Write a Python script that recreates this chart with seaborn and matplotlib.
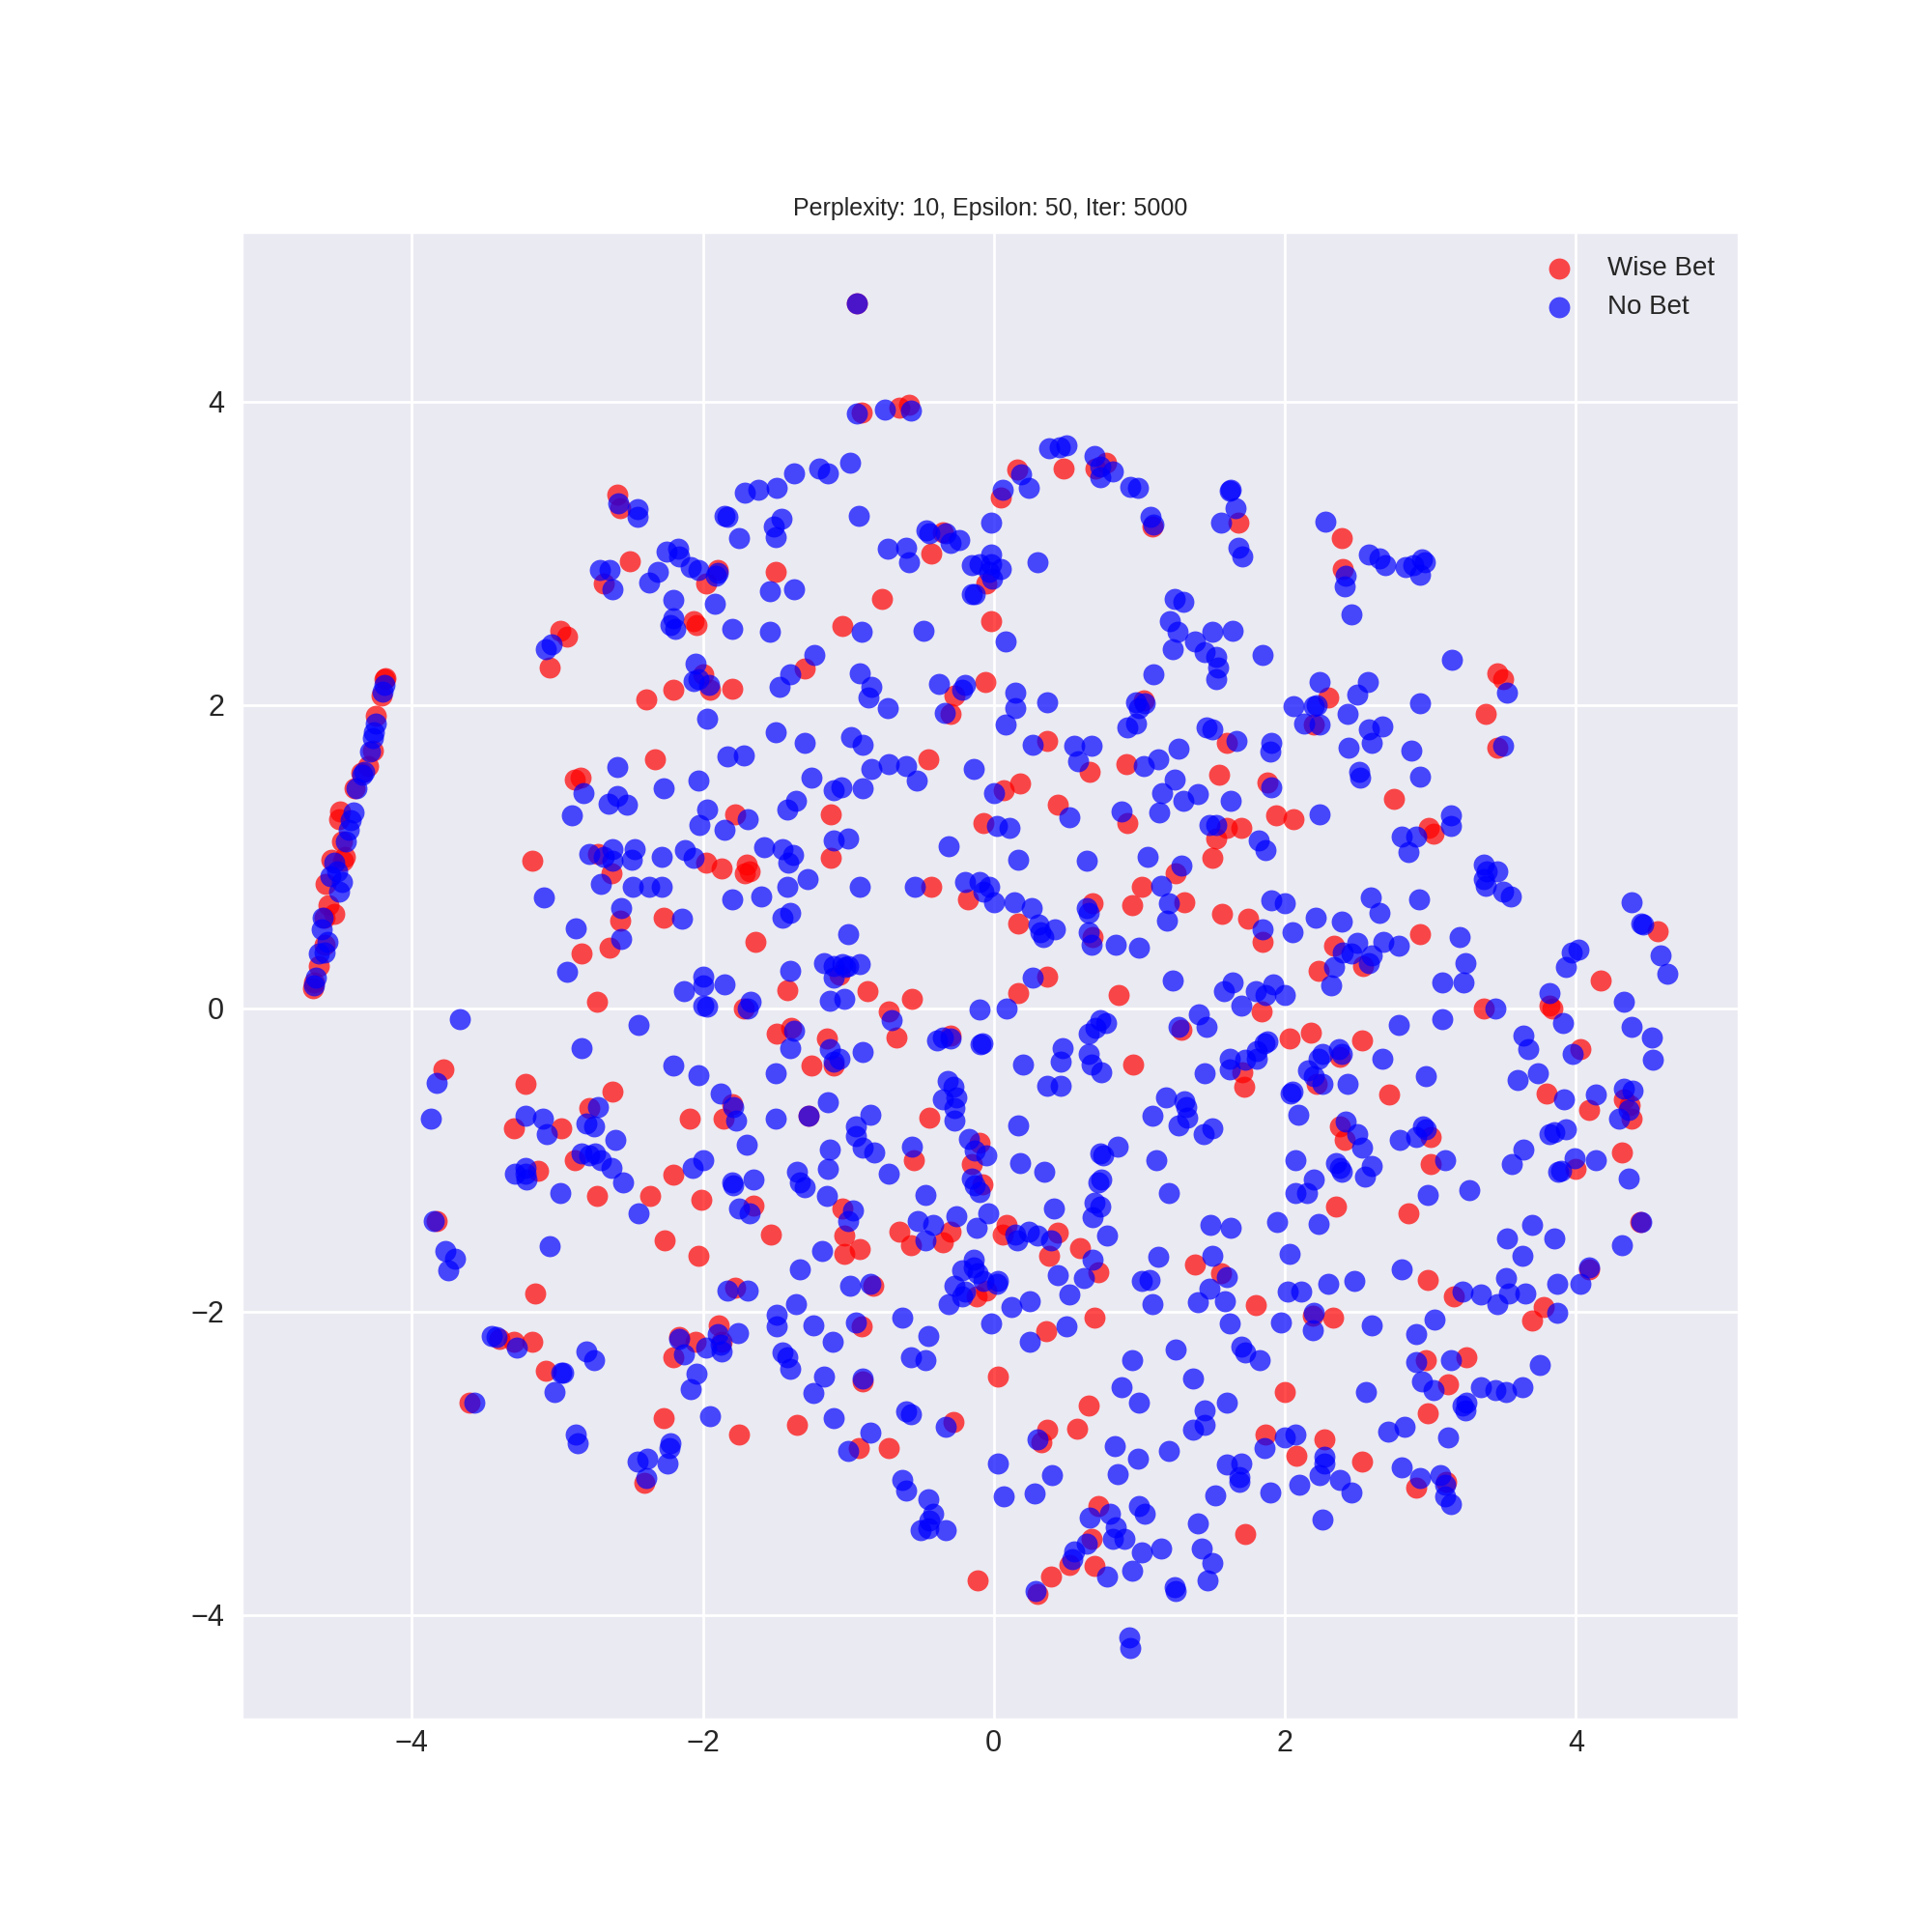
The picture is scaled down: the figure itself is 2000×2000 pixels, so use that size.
import matplotlib
matplotlib.use("Agg")
import matplotlib.pyplot as plt
import seaborn as sns
import pandas as pd

wise_strip = [(-4.68,0.13),(-4.67,0.17),(-4.64,0.28),(-4.6,0.42),(-4.6,0.6),(-4.57,0.68),(-4.53,0.62),(-4.59,0.82),(-4.55,0.98),(-4.47,0.97),(-4.46,1.0),(-4.48,1.1),(-4.5,1.25),(-4.49,1.3),(-4.39,1.45),(-4.35,1.55),(-4.3,1.6),(-4.27,1.7),(-4.25,1.93),(-4.21,2.06),(-4.18,2.18),(-4.19,2.17)]
wise_top = [(-0.91,3.93),(-0.65,3.96),(-0.58,3.98),(-0.94,4.65),(0.16,3.55),(0.48,3.56),(0.7,3.56),(0.77,3.6),(0.05,3.37),(-2.59,3.39),(-2.57,3.3),(-2.5,2.95),(-1.5,2.88),(-1.98,2.8),(-1.9,2.89),(-2.68,2.8),(-0.77,2.7),(-0.43,3.0),(-0.35,3.14),(-0.05,2.8),(-0.02,2.55),(-1.04,2.52),(-2.06,2.55),(-2.04,2.53),(-2.98,2.49),(-2.93,2.45),(-3.05,2.25),(-2.39,2.04),(-2.2,2.1),(-2.0,2.2),(-1.95,2.1),(-1.8,2.11),(-1.3,2.24),(1.09,3.18),(1.68,3.2),(2.39,3.1),(2.4,2.9),(3.46,2.21),(3.5,2.17),(3.38,1.94),(3.46,1.72),(2.3,2.05),(2.2,1.87),(-0.3,1.94),(-0.27,2.06),(-0.06,2.15),(1.03,2.03)]
wise_mid_up = [(-0.45,1.64),(0.07,1.44),(0.18,1.48),(0.37,1.76),(0.66,1.56),(0.44,1.34),(-0.07,1.22),(0.92,1.22),(0.91,1.61),(1.55,1.54),(1.6,1.75),(1.6,1.19),(1.53,1.12),(1.5,0.99),(1.7,1.19),(1.88,1.49),(1.94,1.27),(2.06,1.25),(2.75,1.38),(2.99,1.19),(3.02,1.15),(-2.88,1.51),(-2.84,1.52),(-2.33,1.64),(-1.78,1.28),(-1.12,1.28),(-1.12,0.99),(-3.17,0.97),(-2.72,1.02),(-2.63,0.89),(-1.98,0.96),(-1.87,0.92),(-1.7,0.95),(-1.71,0.89),(-1.68,0.9),(-2.57,0.58),(-2.27,0.6),(-2.64,0.4),(-2.83,0.36),(-1.64,0.44),(-0.43,0.8),(-0.18,0.72),(0.17,0.56),(0.68,0.69),(0.68,0.47),(0.95,0.68),(1.02,0.8),(1.25,0.89),(1.31,0.7),(1.57,0.62),(1.75,0.59),(1.85,0.44),(2.34,0.41),(2.23,0.25),(2.54,0.28),(2.93,0.49),(4.56,0.51),(4.17,0.18),(-2.73,0.04),(-1.42,0.12),(-1.06,0.22),(-0.87,0.11),(-0.56,0.06),(0.17,0.1),(0.37,0.21),(0.86,0.09),(1.84,-0.02),(3.37,0.0),(3.82,0.02),(3.84,0.0)]
wise_mid_low = [(-1.72,0.0),(-0.72,-0.02),(-0.67,-0.19),(-1.49,-0.17),(-1.39,-0.13),(-1.25,-0.38),(-1.15,-0.2),(-1.1,-0.38),(-0.3,-0.18),(0.96,-0.37),(1.29,-0.14),(1.71,-0.42),(1.72,-0.52),(2.03,-0.2),(2.18,-0.16),(2.22,-0.5),(2.38,-0.32),(2.72,-0.57),(2.53,-0.21),(3.8,-0.56),(4.03,-0.27),(4.09,-0.67),(4.33,-0.6),(4.37,-0.64),(4.38,-0.73),(4.32,-0.95),(4.0,-1.06),(-3.78,-0.4),(-3.22,-0.5),(-2.62,-0.55),(-2.78,-0.66),(-3.3,-0.79),(-2.97,-0.79),(-2.2,-1.1),(-2.09,-0.73),(-1.86,-0.73),(-1.8,-0.63),(-1.27,-0.71),(-0.44,-0.72),(-0.1,-0.89),(-0.15,-1.03),(-0.55,-1.0),(-0.08,-1.16),(-3.13,-1.07),(-2.88,-1.0),(-2.73,-1.24),(-2.36,-1.24),(-2.01,-1.26),(-1.65,-1.3),(-1.04,-1.32),(2.38,-0.78),(2.41,-0.87),(3.0,-0.85),(3.0,-1.03),(2.85,-1.35),(2.35,-1.31),(0.06,-1.49),(0.09,-1.43),(0.44,-1.48),(0.59,-1.58),(0.38,-1.63),(-0.65,-1.47),(-0.57,-1.56),(-0.3,-1.47),(-0.35,-1.54),(-1.03,-1.5),(-1.03,-1.62),(-0.92,-1.59),(-1.53,-1.49),(-2.03,-1.63),(-2.26,-1.53)]
wise_low = [(-3.83,-1.4),(-3.15,-1.88),(-1.78,-1.84),(-0.83,-1.83),(-0.12,-1.9),(-0.05,-1.86),(0.72,-1.74),(0.69,-2.04),(0.36,-2.13),(1.38,-1.69),(1.56,-1.75),(1.8,-1.96),(2.19,-2.03),(2.33,-2.04),(3.16,-1.9),(2.98,-1.79),(3.7,-2.06),(3.78,-1.97),(4.09,-1.72),(4.44,-1.41),(-3.4,-2.18),(-3.3,-2.2),(-3.17,-2.2),(-3.08,-2.39),(-2.16,-2.17),(-2.2,-2.3),(-2.05,-2.2),(-1.89,-2.09),(-1.87,-2.2),(-0.91,-2.1),(0.03,-2.43),(2.97,-2.32),(3.25,-2.3),(3.12,-2.48),(2.98,-2.67),(2.0,-2.53),(-0.9,-2.46),(-3.6,-2.6),(-2.27,-2.7),(-1.75,-2.81),(-1.35,-2.75),(-0.28,-2.73),(-0.93,-2.9),(-0.72,-2.9),(0.33,-2.86),(0.37,-2.78),(0.57,-2.77),(0.65,-2.62),(1.87,-2.81),(2.08,-2.95),(2.27,-2.84),(2.53,-2.99),(2.9,-3.16),(3.11,-3.12),(-2.4,-3.13),(0.72,-3.28),(0.67,-3.5),(0.69,-3.68),(1.73,-3.47),(0.52,-3.67),(0.39,-3.75),(-0.11,-3.77),(0.3,-3.86)]

nobet_strip = [(-4.67,0.15),(-4.66,0.2),(-4.64,0.36),(-4.62,0.52),(-4.61,0.6),(-4.58,0.44),(-4.6,0.37),(-4.56,0.87),(-4.53,0.96),(-4.51,0.9),(-4.48,0.83),(-4.5,0.77),(-4.45,1.1),(-4.43,1.18),(-4.42,1.24),(-4.4,1.29),(-4.38,1.45),(-4.34,1.54),(-4.33,1.56),(-4.29,1.69),(-4.27,1.78),(-4.26,1.82),(-4.25,1.88),(-4.2,2.09),(-4.19,2.13)]
nobet_top = [(-0.94,4.65),(-0.94,3.92),(-0.75,3.95),(-0.57,3.94),(0.38,3.69),(0.45,3.7),(0.5,3.71),(0.69,3.64),(0.73,3.57),(0.73,3.5),(0.82,3.54),(0.94,3.44),(0.99,3.43),(-0.99,3.6),(-1.2,3.56),(-1.14,3.53),(-1.37,3.53),(-1.49,3.43),(-1.62,3.42),(-1.71,3.4),(-0.93,3.25),(-1.85,3.25),(-1.83,3.24),(-1.46,3.23),(-1.51,3.18),(-1.5,3.11),(-1.75,3.1),(-0.46,3.15),(-0.44,3.13),(-0.33,3.13),(-0.24,3.09),(-0.3,3.07),(-0.73,3.03),(-0.6,3.04),(-0.58,2.94),(-0.15,2.92),(-0.1,2.93),(-0.02,3.2),(0.06,3.42),(0.19,3.52),(0.24,3.43),(-0.02,2.99),(-0.02,2.93),(-0.03,2.88),(0.05,2.9),(-0.01,2.83),(0.3,2.94),(-0.15,2.73),(-0.13,2.73),(1.08,3.24),(1.1,3.19),(1.63,3.42),(1.62,3.41),(1.56,3.2),(1.66,3.3),(1.68,3.04),(1.71,2.98),(2.28,3.21),(2.58,2.99),(2.65,2.97),(2.69,2.92),(2.83,2.91),(2.88,2.92),(2.94,2.96),(2.96,2.94),(2.93,2.86),(2.42,2.85),(2.41,2.78),(2.46,2.6),(-2.58,3.33),(-2.45,3.29),(-2.45,3.24),(-2.25,3.01),(-2.71,2.89),(-2.64,2.89),(-2.62,2.76),(-2.37,2.81),(-2.31,2.88),(-2.17,3.03),(-2.16,2.98),(-2.08,2.91),(-2.03,2.89),(-1.9,2.87),(-1.91,2.85),(-1.92,2.67),(-1.54,2.75),(-1.37,2.76),(-2.2,2.69),(-2.2,2.57),(-2.22,2.53),(-2.19,2.5),(-1.8,2.5),(-1.54,2.48),(-1.23,2.33),(-0.91,2.48),(-0.48,2.49),(0.08,2.42),(1.24,2.7),(1.3,2.68),(1.21,2.55),(1.26,2.48),(1.38,2.42),(1.23,2.37),(1.45,2.35),(1.5,2.48),(1.64,2.49),(1.53,2.32),(1.54,2.25),(1.53,2.17),(1.85,2.33),(1.1,2.2),(-3.08,2.37),(-3.04,2.4),(-2.05,2.27),(-2.03,2.17),(-1.96,2.13),(-2.06,2.16),(-1.97,1.91),(-1.47,2.12),(-1.4,2.2),(-0.92,2.21),(-0.84,2.12),(-0.86,2.05),(-0.73,1.98),(-0.38,2.14),(-0.34,1.95),(-0.2,2.13),(-0.22,2.1),(0.15,2.08),(0.15,1.98),(0.08,1.87),(0.37,2.02),(0.98,2.02),(1.0,1.98),(1.04,2.01),(0.92,1.85),(0.98,1.88),(1.46,1.85),(1.5,1.84),(1.67,1.76),(1.91,1.75),(1.9,1.69),(2.06,1.99),(2.2,1.99),(2.22,2.0),(2.24,2.15),(2.57,2.15),(2.5,2.07),(2.43,1.94),(2.24,1.87),(2.13,1.88),(2.58,1.84),(2.6,1.75),(2.44,1.72),(2.67,1.86),(2.93,2.01),(3.15,2.3),(3.53,2.08),(3.5,1.73),(2.51,1.56),(2.52,1.52),(2.87,1.7),(2.93,1.53)]
nobet_mid_up = [(-1.5,1.82),(-1.3,1.75),(-1.72,1.67),(-1.83,1.66),(-0.98,1.79),(-0.9,1.74),(-0.84,1.58),(-0.72,1.61),(-0.6,1.6),(-0.9,1.45),(-0.53,1.5),(-0.14,1.58),(0.27,1.74),(0.55,1.73),(0.58,1.63),(0.67,1.73),(1.03,1.6),(1.13,1.64),(1.24,1.51),(1.27,1.71),(1.16,1.42),(1.3,1.37),(1.4,1.41),(1.14,1.29),(0.88,1.3),(0.52,1.26),(0.0,1.42),(0.02,1.2),(0.11,1.19),(0.17,0.98),(0.64,0.97),(1.06,1.0),(1.29,0.94),(1.15,0.81),(-0.31,1.07),(1.63,1.37),(1.48,1.21),(1.53,1.21),(1.82,1.11),(1.87,1.04),(1.91,1.46),(2.24,1.28),(3.14,1.27),(3.14,1.2),(2.8,1.13),(2.9,1.13),(2.85,1.03),(-2.59,1.59),(-2.82,1.42),(-2.9,1.27),(-2.59,1.4),(-2.65,1.35),(-2.52,1.34),(-2.27,1.45),(-2.03,1.5),(-1.97,1.31),(-1.69,1.25),(-1.85,1.18),(-2.02,1.21),(-1.25,1.52),(-1.36,1.37),(-1.1,1.44),(-1.05,1.46),(-1.42,1.31),(-1.58,1.06),(-1.45,1.05),(-1.38,1.01),(-1.41,0.96),(-1.42,0.8),(-1.28,0.85),(-1.1,1.11),(-1.0,1.12),(-0.92,0.8),(-0.54,0.8),(-2.78,1.02),(-2.68,1.0),(-2.62,1.05),(-2.62,0.97),(-2.47,1.05),(-2.49,0.98),(-2.7,0.82),(-2.48,0.8),(-2.37,0.8),(-2.28,0.8),(-2.28,1.0),(-2.12,1.04),(-2.06,0.99),(-3.09,0.73),(-2.87,0.53),(-2.56,0.66),(-2.56,0.46),(-2.14,0.59),(-1.8,0.72),(-1.6,0.74),(-1.45,0.6),(-1.4,0.63),(-0.1,0.83),(-0.2,0.83),(-0.07,0.77),(-0.03,0.8),(0.0,0.7),(0.14,0.7),(0.26,0.66),(0.31,0.55),(0.34,0.47),(0.32,0.5),(0.42,0.52),(0.65,0.63),(0.64,0.66),(0.65,0.5),(0.67,0.42),(0.84,0.42),(1.0,0.4),(1.19,0.58),(1.2,0.69),(1.85,0.52),(1.91,0.71),(2.0,0.69),(2.05,0.5),(2.21,0.6),(2.39,0.57),(2.65,0.63),(2.59,0.73),(2.92,0.72),(3.2,0.47),(3.37,0.95),(3.39,0.9),(3.37,0.85),(3.38,0.81),(3.46,0.9),(3.5,0.77),(3.55,0.74),(4.38,0.7),(4.45,0.56),(4.46,0.55),(4.58,0.35),(4.63,0.23),(4.02,0.39),(3.97,0.37),(3.93,0.27),(3.24,0.3),(3.08,0.17),(3.23,0.17),(2.4,0.37),(2.46,0.36),(2.5,0.43),(2.58,0.3),(2.6,0.35),(2.68,0.44),(2.78,0.41),(2.34,0.27),(2.32,0.15),(-2.93,0.24),(-1.17,0.3),(-1.1,0.28),(-1.0,0.49),(-1.04,0.29),(-1.0,0.28),(-0.92,0.29),(-1.4,0.25),(-1.85,0.16),(-2.0,0.21),(-2.0,0.15),(-2.13,0.11),(-1.1,0.2),(-1.02,0.27),(0.27,0.2),(1.23,0.18),(1.58,0.11),(1.64,0.17),(1.7,0.02),(1.8,0.11),(1.87,0.09),(1.92,0.16),(2.0,0.09),(3.82,0.1)]
nobet_mid = [(-3.67,-0.07),(-2.44,-0.11),(-2.0,0.02),(-1.97,0.01),(-1.69,0.0),(-1.67,0.04),(-1.13,0.05),(-1.03,0.06),(-0.7,-0.08),(-0.1,-0.01),(0.09,0.0),(0.7,-0.13),(0.77,-0.1),(0.73,-0.08),(0.65,-0.17),(1.27,-0.12),(1.41,-0.04),(1.46,-0.12),(3.08,-0.07),(2.78,-0.11),(3.45,0.0),(3.64,-0.18),(3.67,-0.27),(3.91,-0.1),(3.98,-0.3),(4.33,0.04),(4.38,-0.12),(4.52,-0.19),(4.53,-0.34),(-1.37,-0.15),(-1.4,-0.26),(-1.13,-0.27),(-1.1,-0.35),(-1.06,-0.33),(-0.9,-0.29),(-0.39,-0.21),(-0.35,-0.19),(-0.3,-0.2),(-0.09,-0.24),(-0.08,-0.23),(0.2,-0.37),(0.47,-0.26),(0.46,-0.35),(0.65,-0.3),(0.67,-0.37),(0.37,-0.51),(0.46,-0.51),(0.74,-0.42),(1.62,-0.33),(1.62,-0.4),(1.73,-0.34),(1.81,-0.28),(1.86,-0.23),(1.88,-0.22),(1.81,-0.33),(1.45,-0.43),(2.26,-0.3),(2.23,-0.33),(2.26,-0.5),(2.37,-0.27),(2.39,-0.3),(2.43,-0.5),(2.2,-0.45),(2.16,-0.41),(2.67,-0.33),(2.97,-0.45),(3.6,-0.47),(3.74,-0.43),(3.92,-0.6),(3.85,-0.82),(3.93,-0.8),(4.14,-0.57),(4.3,-0.73),(4.33,-0.53),(4.39,-0.54),(4.36,-0.67),(-3.83,-0.49),(-2.83,-0.26),(-2.2,-0.38),(-2.03,-0.44),(-1.88,-0.56),(-1.5,-0.43),(-1.79,-0.65),(-1.77,-0.74),(-1.5,-0.73),(-1.27,-0.71),(-1.14,-0.62),(-0.85,-0.7),(-0.95,-0.78),(-0.95,-0.84),(-0.32,-0.48),(-0.28,-0.52),(-0.35,-0.6),(-0.26,-0.59),(-0.27,-0.66),(-0.27,-0.74),(1.18,-0.59),(1.31,-0.61),(1.32,-0.65),(1.09,-0.71),(1.33,-0.72),(1.27,-0.77),(1.44,-0.83),(1.5,-0.79),(2.05,-0.55),(2.04,-0.56),(2.09,-0.7),(2.42,-0.75),(2.5,-0.83),(2.53,-0.92),(2.95,-0.78),(2.97,-0.8),(2.9,-0.85),(2.79,-0.87),(3.64,-0.93),(3.82,-0.83),(3.56,-1.03),(3.99,-0.99),(4.14,-1.0),(3.88,-1.08),(3.9,-1.07),(-3.87,-0.73),(-3.22,-0.71),(-3.1,-0.73),(-3.07,-0.83),(-2.8,-0.76),(-2.75,-0.78),(-2.72,-0.65),(-2.6,-0.87),(-1.7,-0.9),(-0.17,-0.86),(-0.13,-0.94),(0.17,-0.77),(-0.9,-0.92),(-0.82,-0.95),(-0.56,-0.91),(-0.05,-0.97),(0.85,-0.91),(0.73,-0.96),(0.75,-0.97),(0.18,-1.02),(1.12,-1.0),(2.07,-1.0),(2.35,-1.02),(2.38,-1.05),(2.39,-1.08),(2.6,-1.04),(2.55,-1.11)]
nobet_low_a = [(-3.29,-1.09),(-3.22,-1.05),(-3.22,-1.09),(-3.21,-1.13),(-2.83,-0.96),(-2.78,-0.97),(-2.74,-0.96),(-2.7,-1.0),(-2.63,-1.05),(-2.55,-1.15),(-2.98,-1.22),(-2.44,-1.35),(-2.07,-1.05),(-2.0,-1.0),(-1.8,-1.15),(-1.79,-1.17),(-1.75,-1.32),(-1.68,-1.35),(-1.35,-1.08),(-1.33,-1.15),(-1.3,-1.18),(-1.13,-0.93),(-1.14,-1.06),(-1.15,-1.24),(-0.97,-1.33),(-0.72,-1.09),(-0.47,-1.23),(-1.0,-1.4),(-0.15,-1.12),(-0.13,-1.17),(-0.1,-1.21),(-0.04,-1.35),(0.35,-1.08),(0.41,-1.32),(0.72,-1.15),(0.74,-1.13),(0.69,-1.28),(0.68,-1.38),(0.73,-1.31),(0.78,-1.5),(1.2,-1.22),(1.49,-1.43),(1.63,-1.45),(1.95,-1.41),(2.07,-1.22),(2.15,-1.22),(2.2,-1.13),(2.23,-1.42),(3.1,-1.0),(2.98,-1.23),(3.27,-1.2),(3.7,-1.43),(3.53,-1.52),(3.85,-1.52),(3.63,-1.63),(4.36,-1.12),(4.32,-1.56),(4.45,-1.41),(-3.85,-1.4),(-3.77,-1.6),(-3.7,-1.65),(-3.75,-1.73),(-3.05,-1.57),(-1.65,-1.13),(-1.33,-1.72),(-1.18,-1.6),(-0.99,-1.83),(-0.85,-1.82),(-0.47,-1.53),(-0.52,-1.4),(-0.42,-1.43),(-0.26,-1.37),(-0.12,-1.45),(0.15,-1.49),(0.16,-1.53),(0.3,-1.5),(0.39,-1.53),(0.44,-1.76),(0.62,-1.78),(0.68,-1.66),(1.07,-1.79),(1.13,-1.64),(0.24,-1.47),(0.02,-1.82),(0.03,-1.8),(-0.14,-1.66),(-0.14,-1.71),(-0.22,-1.73),(-0.11,-1.75),(-0.27,-1.83),(-0.2,-1.87),(-0.31,-1.95),(-0.22,-1.9),(-0.07,-1.8),(1.6,-1.77),(1.5,-1.63),(1.48,-1.85),(1.4,-1.94),(1.59,-1.93),(1.62,-2.08),(2.03,-1.62),(2.02,-1.87),(2.11,-1.87),(2.3,-1.82),(2.48,-1.8),(2.8,-1.72),(3.22,-1.87),(3.35,-1.89),(3.46,-1.95),(3.52,-1.78),(3.54,-1.88),(3.65,-1.88),(3.87,-1.82),(3.87,-2.01),(4.03,-1.82),(4.09,-1.71),(-1.83,-1.86),(-1.69,-1.86)]
nobet_low_b = [(-1.36,-1.95),(-1.24,-2.09),(-1.11,-2.2),(-0.95,-2.07),(-0.63,-2.04),(-0.45,-2.16),(-1.49,-2.02),(-1.49,-2.1),(-1.45,-2.27),(-1.42,-2.3),(-1.4,-2.38),(-1.17,-2.43),(-1.24,-2.54),(-1.1,-2.7),(-0.9,-2.44),(-0.57,-2.3),(-0.47,-2.32),(-0.57,-2.68),(-0.6,-2.66),(-0.85,-2.8),(-0.33,-2.76),(-1.0,-2.92),(-0.02,-2.08),(0.12,-1.97),(0.25,-1.93),(0.25,-2.2),(0.5,-2.1),(0.52,-1.89),(0.95,-2.32),(0.88,-2.5),(1.0,-2.6),(1.02,-1.8),(1.09,-1.95),(1.25,-2.25),(1.37,-2.44),(1.45,-2.65),(1.37,-2.78),(1.45,-2.75),(1.6,-2.6),(1.7,-2.23),(1.73,-2.27),(1.83,-2.32),(1.97,-2.07),(2.19,-2.12),(2.2,-2.01),(2.6,-2.09),(2.56,-2.53),(2.9,-2.15),(2.9,-2.33),(2.94,-2.46),(3.02,-2.52),(3.14,-2.32),(3.03,-2.05),(3.25,-2.6),(3.24,-2.65),(3.22,-2.62),(3.35,-2.5),(3.45,-2.52),(3.52,-2.53),(3.63,-2.5),(3.75,-2.35),(-3.45,-2.16),(-3.42,-2.17),(-3.28,-2.24),(-3.57,-2.6),(-2.8,-2.26),(-2.75,-2.32),(-2.97,-2.4),(-2.96,-2.4),(-3.02,-2.53),(-2.16,-2.18),(-2.13,-2.28),(-1.98,-2.24),(-1.9,-2.15),(-1.88,-2.22),(-1.87,-2.26),(-1.76,-2.14),(-2.04,-2.41),(-2.08,-2.51),(-1.95,-2.69),(-2.87,-2.81),(-2.86,-2.87),(-2.45,-2.99),(-2.38,-2.97),(-2.22,-2.87),(-2.23,-2.9),(-2.24,-3.0),(-2.39,-3.1),(-0.63,-3.11),(-0.6,-3.18),(-0.45,-3.24),(-0.42,-3.33),(-0.44,-3.38),(-0.5,-3.44),(-0.45,-3.43),(-0.33,-3.44),(0.03,-3.0),(0.07,-3.22),(0.28,-3.2),(0.3,-2.84),(0.4,-3.08),(0.83,-2.89),(0.85,-3.07),(0.99,-2.97),(1.2,-2.92),(1.6,-3.01),(1.7,-3.0),(1.69,-3.09),(1.69,-3.12),(1.52,-3.21),(1.86,-2.9),(1.9,-3.19),(2.0,-2.83),(2.07,-2.81),(2.1,-3.14),(2.27,-2.96),(2.27,-3.0),(2.24,-3.08),(2.38,-3.11),(2.46,-3.19),(2.26,-3.37),(2.71,-2.79),(2.8,-3.03),(2.82,-2.76),(2.93,-3.1),(3.07,-3.08),(3.1,-3.14),(3.1,-3.22),(3.14,-3.27),(3.12,-2.83)]
nobet_bottom = [(1.0,-3.28),(1.04,-3.33),(0.8,-3.33),(0.84,-3.42),(0.66,-3.36),(0.64,-3.53),(0.55,-3.58),(0.54,-3.63),(0.78,-3.75),(0.82,-3.5),(0.9,-3.5),(0.95,-3.71),(1.02,-3.59),(1.15,-3.56),(1.4,-3.4),(1.43,-3.56),(1.5,-3.66),(1.47,-3.77),(1.24,-3.82),(1.25,-3.84),(0.29,-3.84),(0.93,-4.15),(0.94,-4.22)]

wise_bet = wise_strip + wise_top + wise_mid_up + wise_mid_low + wise_low
no_bet = nobet_strip + nobet_top + nobet_mid_up + nobet_mid + nobet_low_a + nobet_low_b + nobet_bottom

sns.set_theme()
plt.rcParams['font.family'] = ['Liberation Sans', 'DejaVu Sans']

wise = pd.DataFrame(wise_bet, columns=['x', 'y'])
nobet = pd.DataFrame(no_bet, columns=['x', 'y'])

fig, ax = plt.subplots(figsize=(10, 10), dpi=200)
sns.scatterplot(data=wise, x='x', y='y', color='red', alpha=0.7, s=62, linewidth=0, label='Wise Bet', ax=ax)
sns.scatterplot(data=nobet, x='x', y='y', color='blue', alpha=0.7, s=62, linewidth=0, label='No Bet', ax=ax)
ax.set_xlabel('')
ax.set_ylabel('')
ax.set_xlim(-5.17, 5.12)
ax.set_ylim(-4.69, 5.12)
ax.set_xticks([-4, -2, 0, 2, 4])
ax.set_yticks([-4, -2, 0, 2, 4])
ax.tick_params(length=0)
ax.tick_params(axis='y', pad=6.5)
ax.set_title('Perplexity: 10, Epsilon: 50, Iter: 5000', fontsize=9, pad=6)
ax.legend(loc='upper right', frameon=False, fontsize=10)
fig.savefig('out.png', dpi=200)
